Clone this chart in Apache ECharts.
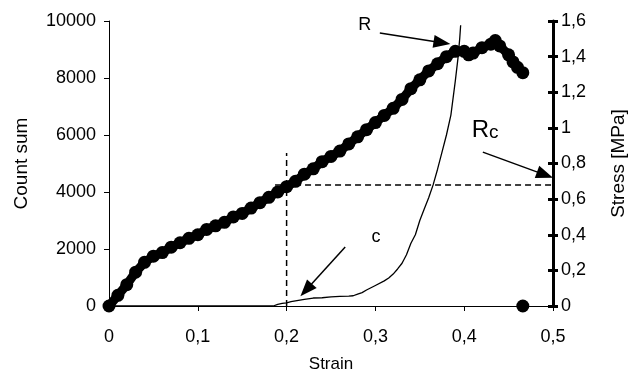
<!DOCTYPE html>
<html>
<head>
<meta charset="utf-8">
<script src="https://cdn.jsdelivr.net/npm/echarts@6/dist/echarts.min.js"></script>
<style>
  html, body { margin: 0; padding: 0; background: #fff; }
  #chart { width: 634px; height: 377px; }
</style>
</head>
<body>
<div id="chart"></div>
<script>
// stress curve (right axis), strain -> MPa
const stressStrain = [0, 0.01, 0.02, 0.03, 0.04, 0.05, 0.06, 0.07, 0.08, 0.09, 0.10, 0.11, 0.12, 0.13, 0.14, 0.15,
  0.16, 0.17, 0.18, 0.19, 0.20, 0.21, 0.22, 0.23, 0.24, 0.25, 0.26, 0.27, 0.28, 0.29, 0.30, 0.31, 0.32, 0.33,
  0.34, 0.35, 0.36, 0.37, 0.38, 0.39, 0.40, 0.405, 0.41, 0.42, 0.43, 0.435, 0.44, 0.45, 0.455, 0.46, 0.466]
const stressValues = [0, 0.06, 0.12, 0.19, 0.245, 0.28, 0.30, 0.33, 0.355, 0.38, 0.40, 0.43, 0.45, 0.47, 0.50, 0.52,
  0.55, 0.58, 0.61, 0.64, 0.67, 0.70, 0.74, 0.77, 0.81, 0.84, 0.87, 0.91, 0.95, 0.99, 1.03, 1.07, 1.11, 1.16,
  1.22, 1.27, 1.32, 1.36, 1.40, 1.43, 1.43, 1.41, 1.42, 1.45, 1.47, 1.49, 1.46, 1.41, 1.37, 1.34, 1.31]
const failurePoint = [0.466, 0]

// count sum (left axis)
const countStrain = [0, 0.185, 0.19, 0.195, 0.2, 0.205, 0.21, 0.22, 0.23, 0.24, 0.25, 0.26, 0.27, 0.275, 0.28,
  0.285, 0.29, 0.3, 0.31, 0.315, 0.32, 0.325, 0.33, 0.335, 0.34, 0.345, 0.35, 0.355, 0.36, 0.365, 0.37,
  0.375, 0.38, 0.385, 0.39, 0.393, 0.395, 0.396]
const countValues = [0, 0, 60, 90, 110, 150, 180, 230, 280, 290, 320, 340, 350, 360, 420,
  470, 560, 720, 880, 980, 1120, 1300, 1500, 1800, 2200, 2500, 3000, 3400, 3800, 4250, 4800,
  5400, 6000, 6700, 7900, 8700, 9400, 9850]

// dashed guide lines (count axis)
const vGuide = [[0.2, 0], [0.2, 5370]]
const hGuide = [[0.187, 4245], [0.5, 4245]]

const xTicks = { min: 0, max: 0.5, interval: 0.1 }
const countTicks = { min: 0, max: 10000, interval: 2000 }
const stressTicks = { min: 0, max: 1.6, interval: 0.2 }

const font = 'Liberation Sans, Arial, sans-serif'
const comma = v => String(Math.round(v * 10) / 10).replace('.', ',')
const zip = (xs, ys) => xs.map((x, i) => [x, ys[i]])

const chart = echarts.init(document.getElementById('chart'))

const stressAxisBase = {
  type: 'value',
  position: 'right',
  ...stressTicks,
  splitLine: { show: false }
}

const option = {
  animation: false,
  textStyle: { fontFamily: font, color: '#000' },
  grid: { left: 109, right: 81, top: 21, bottom: 71, outerBoundsMode: 'none' },
  xAxis: {
    type: 'value',
    ...xTicks,
    name: 'Strain',
    nameLocation: 'middle',
    nameGap: 50,
    nameTextStyle: { fontSize: 17, color: '#000', fontFamily: font },
    axisLine: { onZero: false, lineStyle: { color: '#000', width: 1 } },
    axisTick: { show: true, length: 5, lineStyle: { color: '#000' } },
    axisLabel: { margin: 22, fontSize: 18, color: '#000', fontFamily: font, formatter: comma },
    splitLine: { show: false }
  },
  yAxis: [
    {
      type: 'value',
      ...countTicks,
      name: 'Count sum',
      nameLocation: 'middle',
      nameGap: 78,
      nameTextStyle: { fontSize: 19, color: '#000', fontFamily: font },
      axisLine: { show: true, lineStyle: { color: '#000', width: 1 } },
      axisTick: { show: true, length: 5, lineStyle: { color: '#000' } },
      axisLabel: { margin: 13, fontSize: 18, color: '#000', fontFamily: font, formatter: v => String(v) },
      splitLine: { show: false }
    },
    {
      ...stressAxisBase,
      name: 'Stress [MPa]',
      nameLocation: 'middle',
      nameGap: 56,
      nameTextStyle: { fontSize: 19, color: '#000', fontFamily: font },
      axisLine: { show: true, lineStyle: { color: '#000', width: 3 } },
      axisTick: { show: true, length: 5, lineStyle: { color: '#000', width: 3 } },
      axisLabel: { margin: 8, fontSize: 18, color: '#000', fontFamily: font, formatter: comma }
    },
    {
      // inner half of the crossing ticks
      ...stressAxisBase,
      axisLine: { show: false },
      axisTick: { show: true, inside: true, length: 5, lineStyle: { color: '#000', width: 3 } },
      axisLabel: { show: false }
    }
  ],
  series: [
    {
      name: 'Count sum',
      type: 'line',
      yAxisIndex: 0,
      data: zip(countStrain, countValues),
      showSymbol: false,
      lineStyle: { color: '#000', width: 1.3 },
      z: 3,
      markLine: {
        silent: true,
        symbol: ['none', 'triangle'],
        symbolSize: [13, 17],
        label: { show: false },
        lineStyle: { color: '#000', width: 1.5, type: 'solid' },
        data: [
          [{ coord: [0.305, 9580] }, { coord: [0.375, 9240] }],
          [{ coord: [0.421, 5400] }, { coord: [0.491, 4600] }],
          [{ coord: [0.266, 2070] }, { coord: [0.222, 560] }]
        ]
      },
      markPoint: {
        silent: true,
        symbol: 'circle',
        symbolSize: 0,
        label: {
          show: true,
          position: 'inside',
          color: '#000',
          fontFamily: font,
          fontSize: 18,
          rich: {
            big: { fontSize: 24, fontFamily: font, color: '#000' },
            sub: { fontSize: 19, fontFamily: font, color: '#000', padding: [6, 0, 0, 0] }
          }
        },
        data: [
          { coord: [0.288, 9860], label: { formatter: 'R' } },
          { coord: [0.4235, 6175], label: { formatter: '{big|R}{sub|c}' } },
          { coord: [0.3007, 2420], label: { formatter: 'c' } }
        ]
      }
    },
    {
      type: 'line',
      yAxisIndex: 0,
      data: vGuide,
      showSymbol: false,
      lineStyle: { color: '#000', width: 1.5, type: [6, 4] },
      z: 2
    },
    {
      type: 'line',
      yAxisIndex: 0,
      data: hGuide,
      showSymbol: false,
      lineStyle: { color: '#000', width: 1.5, type: [6, 4] },
      z: 2
    },
    {
      name: 'Stress',
      type: 'line',
      yAxisIndex: 1,
      data: zip(stressStrain, stressValues),
      symbol: 'circle',
      symbolSize: 13,
      showSymbol: true,
      showAllSymbol: true,
      clip: false,
      itemStyle: { color: '#000' },
      lineStyle: { color: '#000', width: 9 },
      z: 4
    },
    {
      type: 'scatter',
      yAxisIndex: 1,
      data: [failurePoint],
      symbol: 'circle',
      symbolSize: 13,
      clip: false,
      itemStyle: { color: '#000', opacity: 1 },
      z: 4
    }
  ]
}

chart.setOption(option)
</script>
</body>
</html>
